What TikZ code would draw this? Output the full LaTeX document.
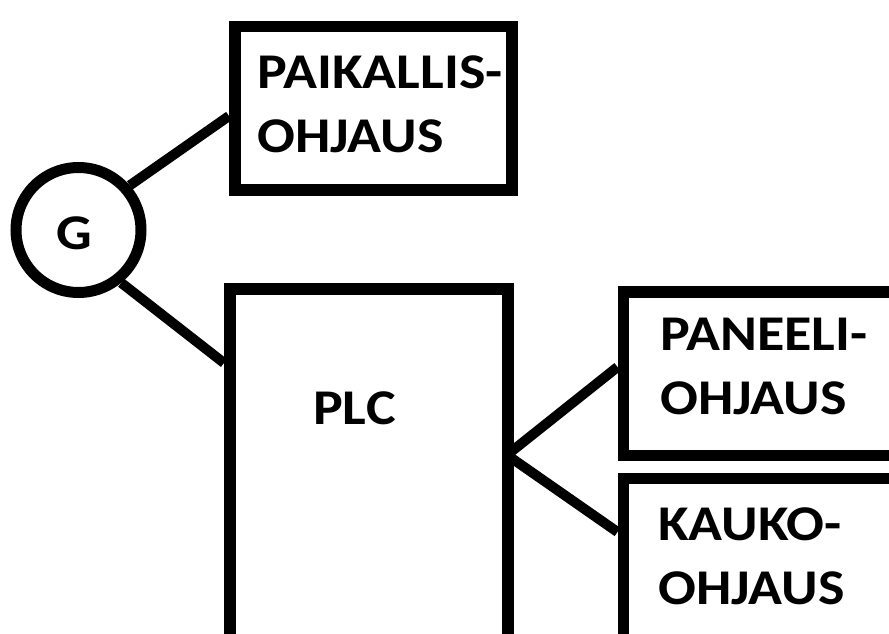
\documentclass[tikz,border=0pt]{standalone}
\usepackage{fontspec}
\setmainfont{Carlito}
\newfontfamily\blocklabelfont[FakeStretch=1.12]{Carlito}
\begin{document}
\begin{tikzpicture}[x=1pt,y=-1pt,
  blockst/.style={draw=black, line width=11.5pt, rectangle, inner sep=0pt, anchor=north west},
  gencirc/.style={draw=black, line width=11pt, circle, inner sep=0pt, minimum size=125pt},
  lbl/.style={font=\blocklabelfont\bfseries\fontsize{50}{64}\selectfont, align=left, inner sep=0pt, anchor=north west, text=black},
  wire/.style={draw=black, line width=10pt, line join=round}]
  \useasboundingbox (0,0) rectangle (889,634);
  \fill[white] (0,0) rectangle (889,634);
  \clip (0,0) rectangle (889,634);

  % generator
  \node[gencirc] (g) at (78.5,230) {};
  \node[font=\blocklabelfont\bfseries\fontsize{50}{64}\selectfont, inner sep=0pt] (gtxt) at (74.5,233.5) {G};

  % control blocks
  \node[blockst, minimum width=277pt, minimum height=163pt] (pk) at (229,21) {};
  \node[blockst, minimum width=278pt, minimum height=420pt] (plc) at (224,283) {};
  \node[blockst, minimum width=330pt, minimum height=163.5pt] (pan) at (617.5,286) {};
  \node[blockst, minimum width=330pt, minimum height=175pt] (kau) at (617.5,472.5) {};

  % block texts
  \node[lbl] (pktxt) at (257,56) {PAIKALLIS-\\OHJAUS};
  \node[lbl] (plctxt) at (313,392) {PLC};
  \node[lbl] (pantxt) at (660,318) {PANEELI-\\OHJAUS};
  \node[lbl] (kautxt) at (658,508) {KAUKO-\\OHJAUS};

  % connection points on the block edges
  \coordinate (pkin) at (229,116);
  \coordinate (plcin) at (224,363);
  \coordinate (plcout) at (507,455);
  \coordinate (panin) at (617.5,367);
  \coordinate (kauin) at (617.5,532);

  % connectors
  \draw[wire] (g.41) -- (pkin);
  \draw[wire] (g.-51) -- (plcin);
  \draw[wire] (panin) -- (plcout) -- (kauin);
\end{tikzpicture}
\end{document}
